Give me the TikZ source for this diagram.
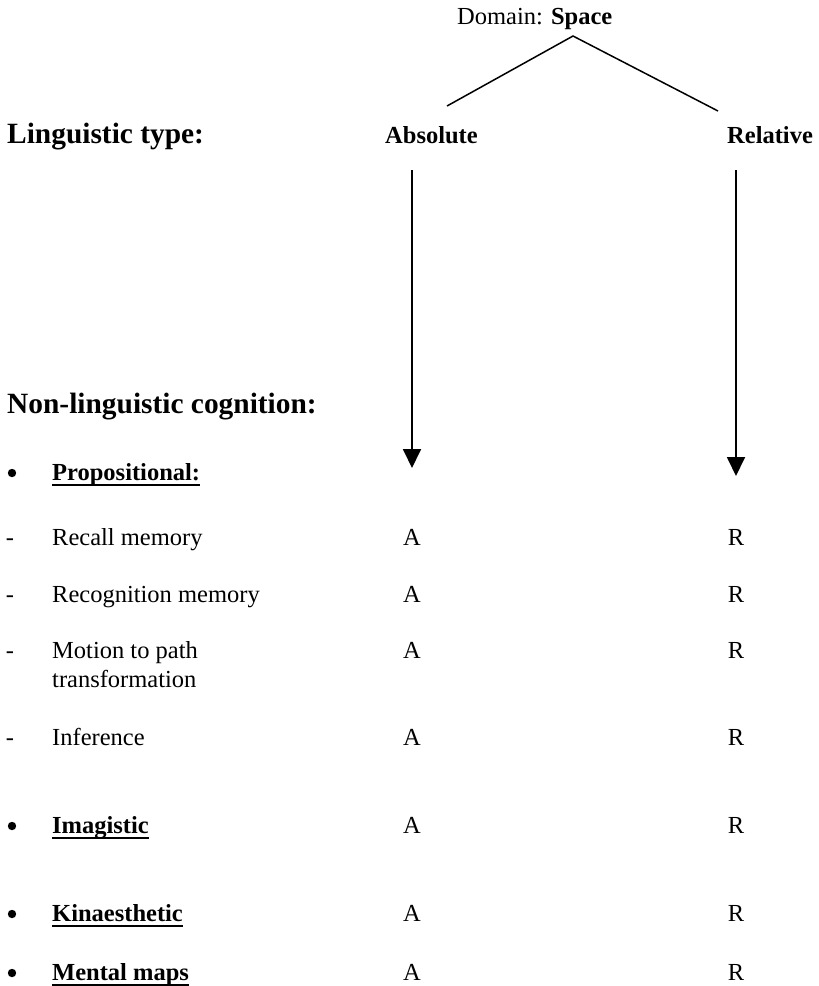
\documentclass[tikz,border=0pt]{standalone}
\usepackage{fontspec}
\setmainfont{Liberation Serif}
\usetikzlibrary{arrows.meta}
\begin{document}
\begin{tikzpicture}[x=1pt,y=-1pt,
  txt/.style={anchor=base west, inner sep=0pt, font=\fontsize{24.5}{29}\selectfont},
  bigbold/.style={anchor=base west, inner sep=0pt, font=\fontsize{29.4}{34}\selectfont\bfseries},
  colbold/.style={anchor=base west, inner sep=0pt, font=\fontsize{24.5}{29}\selectfont\bfseries},
  cell/.style={anchor=base, inner sep=0pt, font=\fontsize{24.5}{29}\selectfont},
  itembold/.style={anchor=base west, inner sep=0pt, font=\fontsize{24.5}{29}\selectfont\bfseries},
  bulletdot/.style={circle, fill=black, inner sep=0pt, minimum size=8.4pt},
  leg/.style={line width=1.5pt},
  downarrow/.style={line width=1.8pt, -{Triangle[length=19pt, width=18pt]}},
  uline/.style={line width=1.6pt}
]
\useasboundingbox (0,0) rectangle (819,986);

% top of the tree
\node[txt] (domain) at (457,24) {Domain: \textbf{Space}};
\coordinate (apex) at (573,36);
\coordinate (legL) at (447,106);
\coordinate (legR) at (718,111);
\draw[leg] (legL) -- (apex) -- (legR);

% linguistic types
\node[bigbold] (lingtype) at (7,143) {Linguistic type:};
\node[colbold] (absolute) at (385,143) {Absolute};
\node[colbold] (relative) at (727,143) {Relative};

\coordinate (absTop) at (412,170);
\coordinate (absTip) at (412,468);
\coordinate (relTop) at (736,170);
\coordinate (relTip) at (736,476);
\draw[downarrow] (absTop) -- (absTip);
\draw[downarrow] (relTop) -- (relTip);

% non-linguistic cognition
\node[bigbold] (nonling) at (7,413) {Non-linguistic cognition:};

\node[bulletdot] (b-prop) at (12,473) {};
\node[itembold] (prop) at (52,480) {Propositional:};
\draw[uline] ([yshift=-5pt]prop.base west) -- ([yshift=-5pt]prop.base east);

% propositional sub-tasks
\foreach \y/\name/\label in {545/recall/Recall memory,
                             602/recog/Recognition memory,
                             658/motion/Motion to path,
                             745/infer/Inference}{
  \node[cell] (d-\name) at (10,\y) {-};
  \node[txt] (\name) at (52,\y) {\label};
  \node[cell] (a-\name) at (412,\y) {A};
  \node[cell] (r-\name) at (736,\y) {R};
}
\node[txt] (motion2) at (52,687) {transformation};

% other modes of cognition
\foreach \y/\name/\label in {833/img/Imagistic\ ,
                             921/kin/Kinaesthetic\ ,
                             980/maps/Mental maps}{
  \node[bulletdot] (b-\name) at (12,\y-7) {};
  \node[itembold] (\name) at (52,\y) {\label};
  \draw[uline] ([yshift=-5pt]\name.base west) -- ([yshift=-5pt]\name.base east);
  \node[cell] (a-\name) at (412,\y) {A};
  \node[cell] (r-\name) at (736,\y) {R};
}
\end{tikzpicture}
\end{document}
